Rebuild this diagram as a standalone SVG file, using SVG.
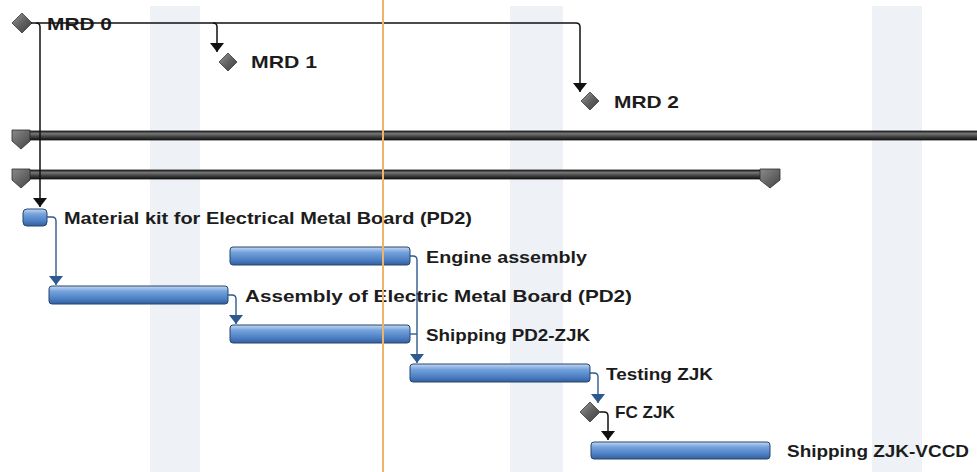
<svg xmlns="http://www.w3.org/2000/svg" width="977" height="472" viewBox="0 0 977 472">
<style>
.lbl{font-family:"Liberation Sans",Arial,sans-serif;font-weight:bold;font-size:17px;fill:#1c1c1c}
.bar{fill:url(#gBlue);stroke:#26456f;stroke-width:1}
.dia{fill:url(#gDia);stroke:#3a3a3a;stroke-width:0.8}
.sum{fill:url(#gSum);stroke:#1a1a1a;stroke-width:0.8}
.cap{fill:url(#gCap);stroke:#2a2a2a;stroke-width:0.8}
.cb{fill:none;stroke:#111;stroke-width:1.5}
.cl{fill:none;stroke:#2d5a8e;stroke-width:1.4}
.stripe{fill:#eef1f6}
</style>
<defs>
<linearGradient id="gBlue" x1="0" y1="0" x2="0" y2="1">
<stop offset="0" stop-color="#c4d8f2"/><stop offset="0.3" stop-color="#74a2dc"/><stop offset="0.7" stop-color="#4d80c4"/><stop offset="1" stop-color="#325f9e"/>
</linearGradient>
<linearGradient id="gDia" x1="0" y1="0" x2="1" y2="1">
<stop offset="0" stop-color="#9a9a9a"/><stop offset="0.5" stop-color="#626262"/><stop offset="1" stop-color="#3e3e3e"/>
</linearGradient>
<linearGradient id="gSum" x1="0" y1="0" x2="0" y2="1">
<stop offset="0" stop-color="#222"/><stop offset="0.3" stop-color="#777"/><stop offset="0.55" stop-color="#4c4c4c"/><stop offset="0.8" stop-color="#2c2c2c"/><stop offset="1" stop-color="#111"/>
</linearGradient>
<linearGradient id="gCap" x1="0" y1="0" x2="1" y2="1">
<stop offset="0" stop-color="#8a8a8a"/><stop offset="1" stop-color="#444"/>
</linearGradient>
<marker id="ahK" viewBox="0 0 10 10" refX="10" refY="5" markerWidth="9" markerHeight="14" markerUnits="userSpaceOnUse" orient="auto" preserveAspectRatio="none">
<path d="M0,0 L10,5 L0,10 z" fill="#111"/>
</marker>
<marker id="ahL" viewBox="0 0 10 10" refX="10" refY="5" markerWidth="9" markerHeight="14" markerUnits="userSpaceOnUse" orient="auto" preserveAspectRatio="none">
<path d="M0,0 L10,5 L0,10 z" fill="#2d5a8e"/>
</marker>
</defs>
<rect width="977" height="472" fill="#fff"/>
<g id="stripes">
<rect class="stripe" x="150" y="6" width="50" height="466"/>
<rect class="stripe" x="510" y="6" width="53" height="466"/>
<rect class="stripe" x="872" y="6" width="50" height="466"/>
</g>
<g id="summary1">
<rect class="sum" x="28" y="131" width="960" height="9"/>
<path class="cap" d="M12,130 H30 V141 L21,149 L12,141 Z"/>
</g>
<g id="summary2">
<rect class="sum" x="28" y="170" width="736" height="9"/>
<path class="cap" d="M12,169 H30 V180 L21,188 L12,180 Z"/>
<path class="cap" d="M760,169 H780 V180 L770,188 L760,180 Z"/>
</g>
<g id="mrd0">
<path class="dia" d="M22,13 L32,23 L22,33 L12,23 Z"/>
<text class="lbl" x="47" y="30" textLength="65" lengthAdjust="spacingAndGlyphs">MRD 0</text>
</g>
<g id="mrd1">
<path class="dia" d="M228,53 L237,62 L228,71 L219,62 Z"/>
<text class="lbl" x="251" y="68" textLength="66" lengthAdjust="spacingAndGlyphs">MRD 1</text>
</g>
<g id="mrd2">
<path class="dia" d="M590,92 L599,101 L590,110 L581,101 Z"/>
<text class="lbl" x="614" y="108" textLength="65" lengthAdjust="spacingAndGlyphs">MRD 2</text>
</g>
<g id="materialKit">
<rect class="bar" x="23" y="209" width="24" height="17" rx="4"/>
<text class="lbl" x="64" y="224" textLength="408" lengthAdjust="spacingAndGlyphs">Material kit for Electrical Metal Board (PD2)</text>
</g>
<g id="engineAssembly">
<rect class="bar" x="230" y="247" width="180" height="18" rx="3"/>
<text class="lbl" x="426" y="263" textLength="161" lengthAdjust="spacingAndGlyphs">Engine assembly</text>
</g>
<g id="assemblyEMB">
<rect class="bar" x="49" y="286" width="179" height="18" rx="3"/>
<text class="lbl" x="245" y="302" textLength="387" lengthAdjust="spacingAndGlyphs">Assembly of Electric Metal Board (PD2)</text>
</g>
<g id="shippingPD2">
<rect class="bar" x="230" y="325" width="180" height="18" rx="3"/>
<text class="lbl" x="426" y="341" textLength="164" lengthAdjust="spacingAndGlyphs">Shipping PD2-ZJK</text>
</g>
<g id="testingZJK">
<rect class="bar" x="410" y="364" width="180" height="18" rx="3"/>
<text class="lbl" x="606" y="380" textLength="107" lengthAdjust="spacingAndGlyphs">Testing ZJK</text>
</g>
<g id="fcZJK">
<path class="dia" d="M590,402 L600,412 L590,422 L580,412 Z"/>
<text class="lbl" x="615" y="418" textLength="60" lengthAdjust="spacingAndGlyphs">FC ZJK</text>
</g>
<g id="shippingVCCD">
<rect class="bar" x="591" y="442" width="179" height="17" rx="3"/>
<text class="lbl" x="787" y="457" textLength="182" lengthAdjust="spacingAndGlyphs">Shipping ZJK-VCCD</text>
</g>
<g id="connectors">
<path class="cb" d="M31,23 H576 Q580,23 580,27 V92" marker-end="url(#ahK)"/>
<path class="cb" d="M213,23 Q217,23 217,27 V52" marker-end="url(#ahK)"/>
<path class="cb" d="M36,23 Q40,23 40,27 V207" marker-end="url(#ahK)"/>
<path class="cb" d="M600,412 H604 Q608,412 608,416 V440" marker-end="url(#ahK)"/>
<path class="cl" d="M47,217 H52 Q56,217 56,221 V285" marker-end="url(#ahL)"/>
<path class="cl" d="M228,295 H232 Q236,295 236,299 V324" marker-end="url(#ahL)"/>
<path class="cl" d="M410,256 H413 Q417,256 417,260 V363" marker-end="url(#ahL)"/>
<path class="cl" d="M410,334 H417"/>
<path class="cl" d="M590,373 H594 Q598,373 598,377 V403" marker-end="url(#ahL)"/>
</g>
<line id="today" x1="383" y1="0" x2="383" y2="472" stroke="#eeb56a" stroke-width="2"/>
</svg>
